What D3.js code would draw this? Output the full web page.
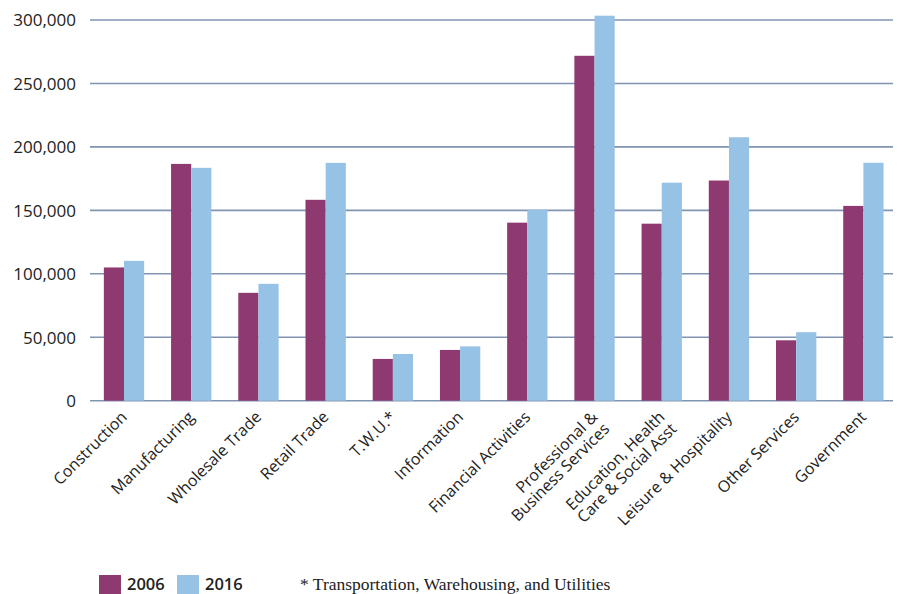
<!DOCTYPE html>
<html>
<head>
<meta charset="utf-8">
<script src="https://cdn.jsdelivr.net/npm/d3@7"></script>
<style>
  html, body { margin: 0; padding: 0; background: #fff; }
  svg { display: block; }
</style>
</head>
<body>
<svg id="chart" width="899" height="594"></svg>
<script>
const categories = [
  ["Construction"],
  ["Manufacturing"],
  ["Wholesale Trade"],
  ["Retail Trade"],
  ["T.W.U.*"],
  ["Information"],
  ["Financial Activities"],
  ["Professional &", "Business Services"],
  ["Education, Health", "Care & Social Asst"],
  ["Leisure & Hospitality"],
  ["Other Services"],
  ["Government"]
];
const values2006 = [105000, 186600, 85000, 158300, 32900, 40000, 140300, 271800, 139500, 173500, 47600, 153500];
const values2016 = [110200, 183500, 92100, 187400, 36800, 42800, 150500, 303400, 171800, 207600, 54000, 187500];
const seriesNames = ["2006", "2016"];
const yTicks = [0, 50000, 100000, 150000, 200000, 250000, 300000];
const footnote = "* Transportation, Warehousing, and Utilities";

const colors = ["#8e3a70", "#96c2e6"];
const svg = d3.select("#chart");
const font = "'Open Sans', 'Noto Sans', sans-serif";

const x0 = d3.scaleBand().domain(d3.range(categories.length)).range([90.4, 897]).paddingInner(0.4).paddingOuter(0.2);
const x1 = d3.scaleBand().domain([0, 1]).range([0, x0.bandwidth()]);
const y = d3.scaleLinear().domain([0, 300000]).range([400.7, 20]);

// gridlines
svg.append("g").selectAll("line").data(yTicks).join("line")
  .attr("x1", 90).attr("x2", 893)
  .attr("y1", d => y(d)).attr("y2", d => y(d))
  .attr("stroke", "#8194b2").attr("stroke-width", 1.6);

// y labels
const yAxis = d3.axisLeft(y).tickValues(yTicks).tickSize(0).tickPadding(0)
  .tickFormat(d3.format(","));
const gy = svg.append("g").attr("transform", "translate(76,0)").call(yAxis);
gy.select(".domain").remove();
gy.selectAll("text").attr("font-family", font).attr("font-size", 17).attr("fill", "#222").attr("dy", "0.34em");

// bars
const data = categories.map((c, i) => [values2006[i], values2016[i]]);
const groups = svg.append("g").selectAll("g").data(data).join("g")
  .attr("transform", (d, i) => `translate(${x0(i)},0)`);
groups.selectAll("rect").data(d => d).join("rect")
  .attr("x", (d, j) => x1(j))
  .attr("width", x1.bandwidth())
  .attr("y", d => y(d))
  .attr("height", d => y(0) - y(d))
  .attr("fill", (d, j) => colors[j]);

// x labels
const lab = svg.append("g").selectAll("text").data(categories).join("text")
  .attr("transform", (d, i) => `translate(${x0(i) + x0.bandwidth() / 2 + 4},418) rotate(-45)`)
  .attr("text-anchor", "end")
  .attr("font-family", font).attr("font-size", 16).attr("fill", "#222");
lab.selectAll("tspan").data(d => d).join("tspan")
  .attr("x", 0).attr("dy", (d, k) => k === 0 ? "0em" : "1.05em")
  .text(d => d);

// legend
const leg = svg.append("g").selectAll("g").data(seriesNames).join("g")
  .attr("transform", (d, i) => `translate(${99 + i * 78},575)`);
leg.append("rect").attr("width", 22).attr("height", 19).attr("fill", (d, i) => colors[i]);
leg.append("text").attr("x", 28).attr("y", 15)
  .attr("font-family", font).attr("font-size", 16.5).attr("font-weight", 600).attr("fill", "#222")
  .text(d => d);

svg.append("text").attr("x", 300).attr("y", 590)
  .attr("font-family", "'Liberation Serif', serif").attr("font-size", 17.5).attr("fill", "#222")
  .text(footnote);
</script>
</body>
</html>
